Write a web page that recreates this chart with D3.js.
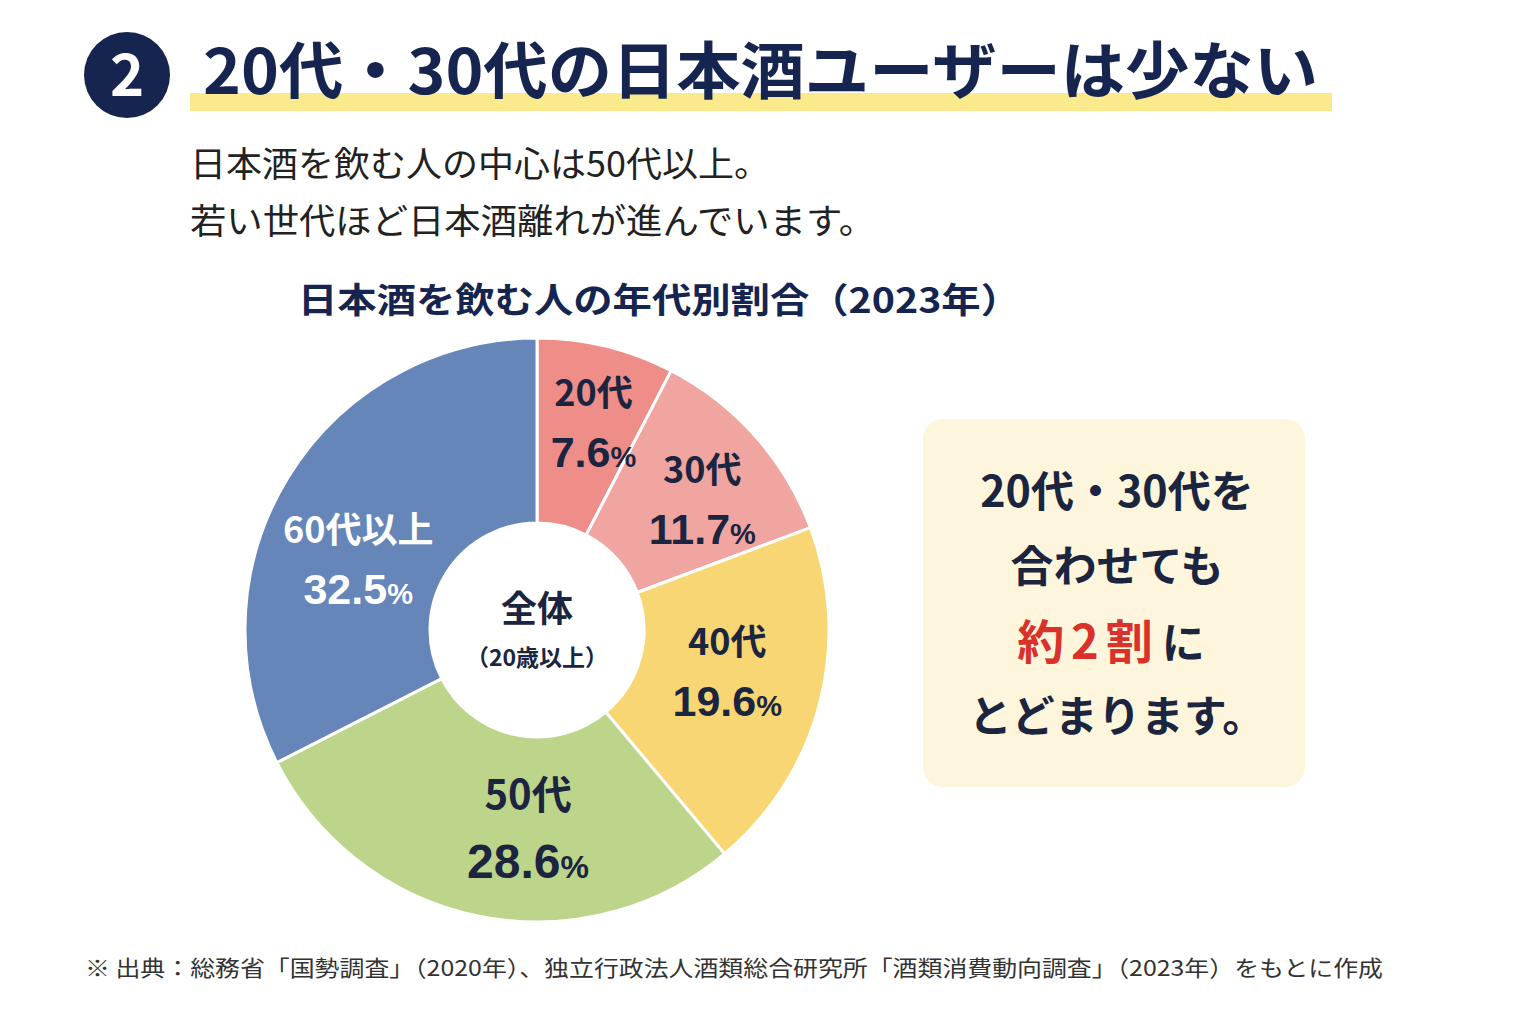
<!DOCTYPE html>
<html>
<head>
<meta charset="utf-8">
<script src="https://cdn.jsdelivr.net/npm/d3@7"></script>
<style>
  body { margin: 0; background: #fff; }
  svg { display: block; font-family: "Noto Sans CJK JP", "Noto Sans", sans-serif; }
</style>
</head>
<body>
<svg id="chart"></svg>
<script>
// 日本酒を飲む人の年代別割合 (2023年) - donut
const ages = ["20代", "30代", "40代", "50代", "60代以上"];
const shares = [7.6, 11.7, 19.6, 28.6, 32.5];
const sliceColors = ["#ef8e88", "#f1a5a0", "#f8d673", "#bdd48b", "#6685b8"];
const labelColors = ["#1b2540", "#1b2540", "#1b2540", "#1b2540", "#ffffff"];

const boxLines = ["20代・30代を", "合わせても", null, "とどまります。"];

const width = 1536;
const height = 1024;
const navy = "#15254f";

// small hand nudges so labels sit where the original put them
const labelNudge = [[8, -9], [12, 5], [-8, -11], [32, -3], [-4, 36]];

const svg = d3.select("#chart")
    .attr("width", width)
    .attr("height", height);

// header badge + title
svg.append("rect")
    .attr("x", 190).attr("y", 93)
    .attr("width", 1142).attr("height", 18)
    .attr("fill", "#fbea8c");

svg.append("circle")
    .attr("cx", 127).attr("cy", 75).attr("r", 43)
    .attr("fill", navy);
svg.append("text")
    .attr("x", 127).attr("y", 96)
    .attr("text-anchor", "middle")
    .attr("fill", "#fff")
    .attr("font-size", 58).attr("font-weight", 700)
    .text("2");

svg.append("text")
    .attr("x", 203).attr("y", 94)
    .attr("fill", navy)
    .attr("font-size", 62).attr("font-weight", 700)
    .attr("textLength", 1115).attr("lengthAdjust", "spacingAndGlyphs")
    .text("20代・30代の日本酒ユーザーは少ない");

// lead text
const lead = ["日本酒を飲む人の中心は50代以上。", "若い世代ほど日本酒離れが進んでいます。"];
const leadWidth = [580, 685];
svg.selectAll("text.lead")
    .data(lead)
    .join("text")
    .attr("class", "lead")
    .attr("x", 190)
    .attr("y", (d, i) => 177 + i * 57)
    .attr("fill", "#222")
    .attr("font-size", 35)
    .attr("textLength", (d, i) => leadWidth[i])
    .attr("lengthAdjust", "spacingAndGlyphs")
    .text(d => d);

// chart title
svg.append("text")
    .attr("x", 298).attr("y", 313)
    .attr("fill", navy)
    .attr("font-size", 35).attr("font-weight", 700)
    .attr("textLength", 722).attr("lengthAdjust", "spacingAndGlyphs")
    .text("日本酒を飲む人の年代別割合（2023年）");

// donut
const cx = 537, cy = 630;
const outerR = 292, innerR = 107;

const pie = d3.pie().sort(null).value(d => d.value);
const arcs = pie(ages.map((a, i) => ({ age: a, value: shares[i], i })));
const arc = d3.arc().innerRadius(innerR).outerRadius(outerR);
const labelArc = d3.arc().innerRadius(205).outerRadius(205);

const g = svg.append("g").attr("transform", `translate(${cx},${cy})`);

g.selectAll("path")
    .data(arcs)
    .join("path")
    .attr("d", arc)
    .attr("fill", d => sliceColors[d.data.i])
    .attr("stroke", "#fff")
    .attr("stroke-width", 3);

const labels = g.selectAll("g.lbl")
    .data(arcs)
    .join("g")
    .attr("class", "lbl")
    .attr("transform", d => {
        const [x, y] = labelArc.centroid(d);
        const [dx, dy] = labelNudge[d.data.i];
        return `translate(${x + dx},${y + dy})`;
    })
    .attr("fill", d => labelColors[d.data.i])
    .attr("font-weight", 700)
    .attr("text-anchor", "middle");

labels.append("text")
    .attr("y", d => d.data.i == 3 ? -19 : -16)
    .attr("font-size", d => d.data.i == 3 ? 40 : 36)
    .text(d => d.data.age);

const pct = labels.append("text")
    .attr("y", d => d.data.i == 3 ? 50 : 45)
    .attr("font-size", d => d.data.i == 3 ? 48 : 43)
    .attr("font-family", "'Liberation Sans', Arial, sans-serif");
pct.append("tspan").text(d => d.data.value.toFixed(1));
pct.append("tspan").attr("font-size", d => d.data.i == 3 ? 32 : 29).text("%");

// centre label
g.append("text")
    .attr("y", -8)
    .attr("text-anchor", "middle")
    .attr("fill", "#1b2540")
    .attr("font-size", 36).attr("font-weight", 700)
    .text("全体");
g.append("text")
    .attr("y", 36)
    .attr("text-anchor", "middle")
    .attr("fill", "#1b2540")
    .attr("font-size", 23).attr("font-weight", 700)
    .text("（20歳以上）");

// callout box
const box = svg.append("g").attr("transform", "translate(923,419)");
box.append("rect")
    .attr("width", 382).attr("height", 368)
    .attr("rx", 20)
    .attr("fill", "#fdf6dc");

box.selectAll("text.bl")
    .data(boxLines)
    .join("text")
    .attr("class", "bl")
    .attr("x", 194)
    .attr("y", (d, i) => 88 + i * 75)
    .attr("text-anchor", "middle")
    .attr("fill", "#1b2540")
    .attr("font-size", 43).attr("font-weight", 700)
    .text(d => d);

const hl = box.append("text")
    .attr("x", 188).attr("y", 240)
    .attr("text-anchor", "middle")
    .attr("font-weight", 700);
hl.append("tspan").attr("fill", "#d8322b").attr("font-size", 47)
    .attr("letter-spacing", 7).text("約2割");
hl.append("tspan").attr("fill", "#1b2540").attr("font-size", 43).attr("dx", 2).text("に");

// source note
svg.append("text")
    .attr("x", 85).attr("y", 976)
    .attr("fill", "#333")
    .attr("font-size", 22)
    .attr("textLength", 1298).attr("lengthAdjust", "spacingAndGlyphs")
    .text("※ 出典：総務省「国勢調査」（2020年）、独立行政法人酒類総合研究所「酒類消費動向調査」（2023年）をもとに作成");
</script>
</body>
</html>
